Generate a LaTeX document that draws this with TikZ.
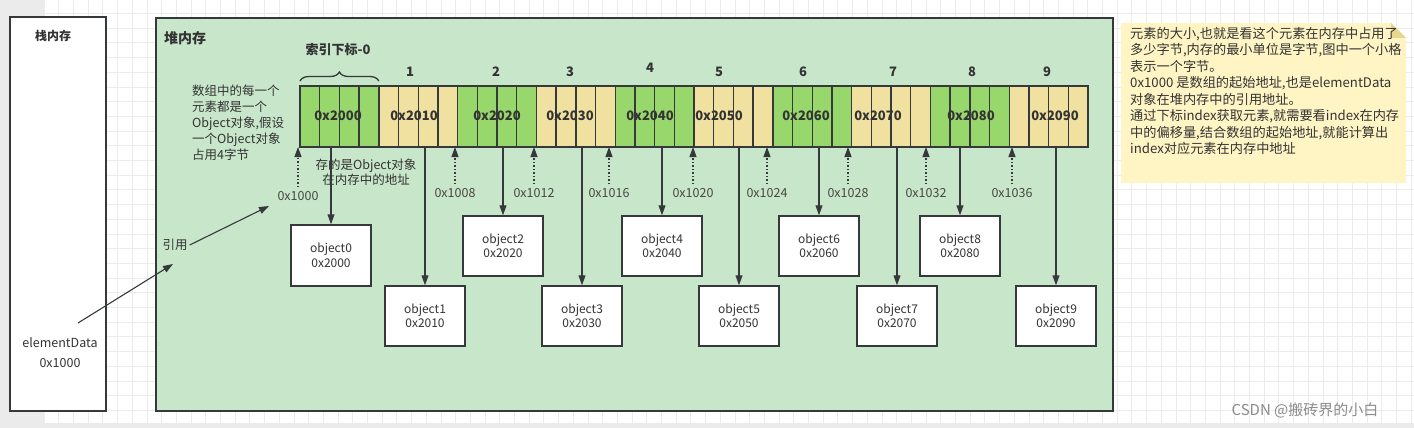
\documentclass[tikz,border=0pt]{standalone}
\usepackage{fontspec}
\newfontfamily\cjk{Noto Sans CJK SC}
\usetikzlibrary{arrows.meta,decorations.pathreplacing}

\definecolor{linec}{RGB}{54,57,59}
\definecolor{textc}{RGB}{51,51,51}
\definecolor{cellgreen}{RGB}{151,215,108}
\definecolor{cellyellow}{RGB}{240,225,160}
\definecolor{heapgreen}{RGB}{200,230,201}
\definecolor{notefill}{RGB}{255,244,196}
\definecolor{notefold}{RGB}{232,214,140}
\definecolor{gridc}{RGB}{236,236,236}
\definecolor{pagegray}{RGB}{235,235,236}

\tikzset{
    gcell/.style={draw=linec,fill=cellgreen,line width=1.4pt,minimum width=19.7,minimum height=61,inner sep=0,outer sep=0},
    ycell/.style={gcell,fill=cellyellow},
    hexlabel/.style={font=\cjk\bfseries\fontsize{13}{15}\selectfont,text=textc,inner sep=0},
    idxlabel/.style={font=\cjk\bfseries\fontsize{13}{15}\selectfont,text=textc,inner sep=0},
    addrlabel/.style={font=\cjk\fontsize{12.5}{15}\selectfont,text=textc!90,inner sep=1pt},
    objbox/.style={draw=linec,fill=white,line width=1.5pt,minimum width=80,minimum height=60,align=center,
        font=\cjk\fontsize{12}{14.5}\selectfont,text=textc},
    ptr/.style={draw=linec,line width=1.1pt,-{Triangle[length=10pt,width=7pt]}},
    addrptr/.style={ptr,dash pattern=on 1.5pt off 2pt,shorten <=3pt},
}

\begin{document}
\begin{tikzpicture}[x=1pt,y=-1pt,font=\cjk\fontsize{12.5}{16}\selectfont]
    \useasboundingbox (0,0) rectangle (1414,428);
    % background page and grid
    \fill[pagegray] (0,0) rectangle (1414,428);
    \fill[white] (44,0) rectangle (1414,423);
    \foreach \gx in {44.1,58.8,...,1414} \draw[gridc,line width=0.9pt] (\gx,0) -- (\gx,423);
    \foreach \gy in {13.5,28.2,...,423} \draw[gridc,line width=0.9pt] (44,\gy) -- (1414,\gy);

    % stack and heap
    \node[draw=linec,fill=white,line width=1.6pt,minimum width=96,minimum height=394] (stack) at (58,214) {};
    \node[font=\cjk\bfseries\fontsize{12}{14}\selectfont,text=textc] (stacktitle) at (53,36) {栈内存};
    \node[draw=linec,fill=heapgreen,line width=1.6pt,minimum width=957,minimum height=393] (heap) at (634.5,214.5) {};
    \node[font=\cjk\bfseries\fontsize{14}{16}\selectfont,text=textc] (heaptitle) at (185,38) {堆内存};

    % array cells
    \node[gcell] at (309.85,116.5) (c0) {};
    \node[gcell] at (329.55,116.5) (c1) {};
    \node[gcell] at (349.25,116.5) (c2) {};
    \node[gcell] at (368.95,116.5) (c3) {};
    \node[ycell] at (388.65,116.5) (c4) {};
    \node[ycell] at (408.35,116.5) (c5) {};
    \node[ycell] at (428.05,116.5) (c6) {};
    \node[ycell] at (447.75,116.5) (c7) {};
    \node[gcell] at (467.45,116.5) (c8) {};
    \node[gcell] at (487.15,116.5) (c9) {};
    \node[gcell] at (506.85,116.5) (c10) {};
    \node[gcell] at (526.55,116.5) (c11) {};
    \node[ycell] at (546.25,116.5) (c12) {};
    \node[ycell] at (565.95,116.5) (c13) {};
    \node[ycell] at (585.65,116.5) (c14) {};
    \node[ycell] at (605.35,116.5) (c15) {};
    \node[gcell] at (625.05,116.5) (c16) {};
    \node[gcell] at (644.75,116.5) (c17) {};
    \node[gcell] at (664.45,116.5) (c18) {};
    \node[gcell] at (684.15,116.5) (c19) {};
    \node[ycell] at (703.85,116.5) (c20) {};
    \node[ycell] at (723.55,116.5) (c21) {};
    \node[ycell] at (743.25,116.5) (c22) {};
    \node[ycell] at (762.95,116.5) (c23) {};
    \node[gcell] at (782.65,116.5) (c24) {};
    \node[gcell] at (802.35,116.5) (c25) {};
    \node[gcell] at (822.05,116.5) (c26) {};
    \node[gcell] at (841.75,116.5) (c27) {};
    \node[ycell] at (861.45,116.5) (c28) {};
    \node[ycell] at (881.15,116.5) (c29) {};
    \node[ycell] at (900.85,116.5) (c30) {};
    \node[ycell] at (920.55,116.5) (c31) {};
    \node[gcell] at (940.25,116.5) (c32) {};
    \node[gcell] at (959.95,116.5) (c33) {};
    \node[gcell] at (979.65,116.5) (c34) {};
    \node[gcell] at (999.35,116.5) (c35) {};
    \node[ycell] at (1019.05,116.5) (c36) {};
    \node[ycell] at (1038.75,116.5) (c37) {};
    \node[ycell] at (1058.45,116.5) (c38) {};
    \node[ycell] at (1078.15,116.5) (c39) {};

    % values stored in the cells
    \node[hexlabel] at (338,116) (h0) {0x2000};
    \node[hexlabel] at (414,116) (h1) {0x2010};
    \node[hexlabel] at (497,116) (h2) {0x2020};
    \node[hexlabel] at (570,116) (h3) {0x2030};
    \node[hexlabel] at (650,116) (h4) {0x2040};
    \node[hexlabel] at (719,116) (h5) {0x2050};
    \node[hexlabel] at (806,116) (h6) {0x2060};
    \node[hexlabel] at (878,116) (h7) {0x2070};
    \node[hexlabel] at (971,116) (h8) {0x2080};
    \node[hexlabel] at (1055,116) (h9) {0x2090};

    % indices
    \node[idxlabel] at (338,50) (i0) {索引下标-0};
    \draw[linec,line width=1.3pt,decorate,decoration={brace,amplitude=9pt}] (c0.north west) ++(0,-5) coordinate (b0) -- (b0 -| c3.north east);
    \node[idxlabel] at (410,72) (i1) {1};
    \node[idxlabel] at (496,72) (i2) {2};
    \node[idxlabel] at (570,72) (i3) {3};
    \node[idxlabel] at (650,68) (i4) {4};
    \node[idxlabel] at (719,72) (i5) {5};
    \node[idxlabel] at (803,72) (i6) {6};
    \node[idxlabel] at (893,72) (i7) {7};
    \node[idxlabel] at (972,72) (i8) {8};
    \node[idxlabel] at (1047,72) (i9) {9};

    % notes inside the heap
    \node[anchor=north west,align=left,text=textc,inner sep=0,font=\cjk\fontsize{12.5}{16}\selectfont] at (192,85) (desc)
        {数组中的每一个\\元素都是一个\\Object对象,假设\\一个Object对象\\占用4字节};
    \node[align=center,text=textc,inner sep=0,font=\cjk\fontsize{12.5}{15.5}\selectfont] at (366,172) (stored)
        {存的是Object对象\\在内存中的地址};

    % addresses of the elements
    \node[addrlabel] at (298,196) (a0) {0x1000};
    \node[addrlabel] at (455,193) (a1) {0x1008};
    \node[addrlabel] at (534,193) (a2) {0x1012};
    \node[addrlabel] at (609,193) (a3) {0x1016};
    \node[addrlabel] at (693,193) (a4) {0x1020};
    \node[addrlabel] at (767,193) (a5) {0x1024};
    \node[addrlabel] at (848,193) (a6) {0x1028};
    \node[addrlabel] at (926,193) (a7) {0x1032};
    \node[addrlabel] at (1012,193) (a8) {0x1036};
    \draw[addrptr] (a0.north) -- (a0 |- c0.south);
    \draw[addrptr] (a1.north) -- (a1 |- c0.south);
    \draw[addrptr] (a2.north) -- (a2 |- c0.south);
    \draw[addrptr] (a3.north) -- (a3 |- c0.south);
    \draw[addrptr] (a4.north) -- (a4 |- c0.south);
    \draw[addrptr] (a5.north) -- (a5 |- c0.south);
    \draw[addrptr] (a6.north) -- (a6 |- c0.south);
    \draw[addrptr] (a7.north) -- (a7 |- c0.south);
    \draw[addrptr] (a8.north) -- (a8 |- c0.south);

    % objects
    \node[objbox,minimum height=61] at (331,255.5) (o0) {object0\\0x2000};
    \node[objbox] at (425,316) (o1) {object1\\0x2010};
    \node[objbox] at (503,246) (o2) {object2\\0x2020};
    \node[objbox] at (582,316) (o3) {object3\\0x2030};
    \node[objbox] at (662,246) (o4) {object4\\0x2040};
    \node[objbox] at (739,316) (o5) {object5\\0x2050};
    \node[objbox] at (819,246) (o6) {object6\\0x2060};
    \node[objbox] at (897,316) (o7) {object7\\0x2070};
    \node[objbox] at (960,246) (o8) {object8\\0x2080};
    \node[objbox] at (1056,316) (o9) {object9\\0x2090};
    \draw[ptr] (o0 |- c0.south) -- (o0);
    \draw[ptr] (o1 |- c0.south) -- (o1);
    \draw[ptr] (o2 |- c0.south) -- (o2);
    \draw[ptr] (o3 |- c0.south) -- (o3);
    \draw[ptr] (o4 |- c0.south) -- (o4);
    \draw[ptr] (o5 |- c0.south) -- (o5);
    \draw[ptr] (o6 |- c0.south) -- (o6);
    \draw[ptr] (o7 |- c0.south) -- (o7);
    \draw[ptr] (o8 |- c0.south) -- (o8);
    \draw[ptr] (o9 |- c0.south) -- (o9);

    % reference from the stack
    \node[align=center,text=textc,inner sep=0,font=\cjk\fontsize{12.5}{20}\selectfont] at (60,353) (ed) {elementData\\0x1000};
    \node[text=textc,inner sep=2pt] at (175,245) (ref) {引用};
    \coordinate (edout) at (78,323);
    \coordinate (refin) at (173,264);
    \coordinate (a0in) at (269,206);
    \draw[ptr] (edout) -- (refin);
    \draw[ptr] (ref.east) -- (a0in);

    % sticky note
    \fill[notefill] (1121,23) -- (1391,23) -- (1406,38) -- (1406,183) -- (1121,183) -- cycle;
    \fill[notefold] (1391,23) -- (1391,38) -- (1406,38) -- cycle;
    \node[anchor=north west,align=left,text=textc,inner sep=0,font=\cjk\fontsize{13.2}{16.5}\selectfont] at (1130,27) (note)
        {元素的大小,也就是看这个元素在内存中占用了\\多少字节,内存的最小单位是字节,图中一个小格\\表示一个字节。\\0x1000 是数组的起始地址,也是elementData\\对象在堆内存中的引用地址。\\通过下标index获取元素,就需要看index在内存\\中的偏移量,结合数组的起始地址,就能计算出\\index对应元素在内存中地址};

    % watermark
    \node[text=black!45,inner sep=0,font=\cjk\fontsize{15}{17}\selectfont] at (1305,410) (mark) {CSDN @搬砖界的小白};
\end{tikzpicture}
\end{document}
